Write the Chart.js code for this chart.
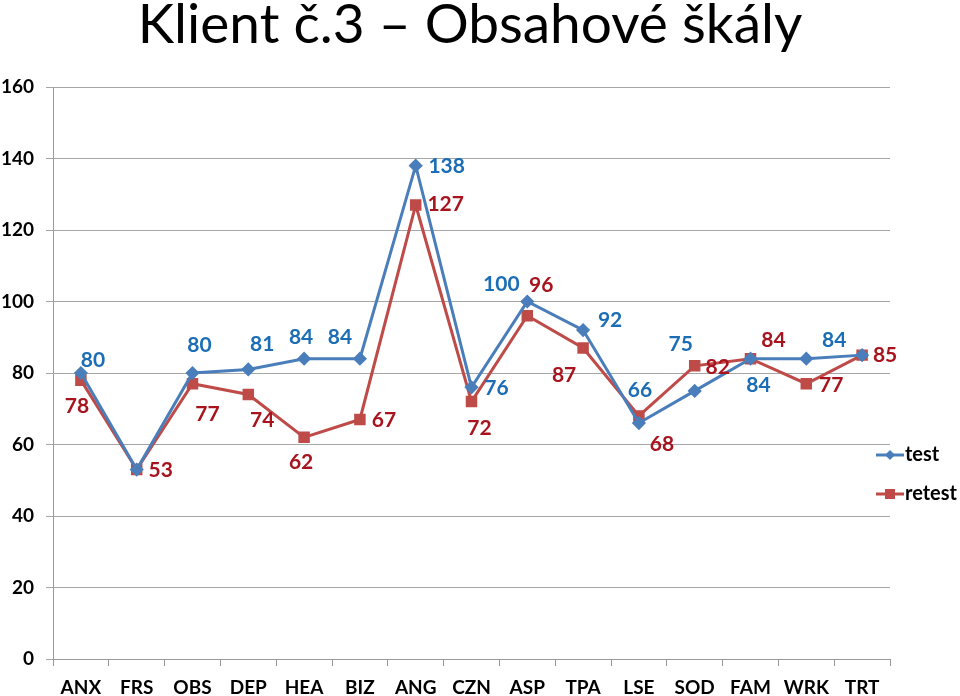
<!DOCTYPE html>
<html>
<head>
<meta charset="utf-8">
<script src="https://cdn.jsdelivr.net/npm/chart.js@4.4.0/dist/chart.umd.min.js"></script>
<style>
html,body{margin:0;padding:0;background:#fff;}
#wrap{width:960px;height:696px;position:relative;}
</style>
</head>
<body>
<div id="wrap"><canvas id="c" width="960" height="696"></canvas></div>
<script>
const categories = ["ANX","FRS","OBS","DEP","HEA","BIZ","ANG","CZN","ASP","TPA","LSE","SOD","FAM","WRK","TRT"];
const testValues   = [80,53,80,81,84,84,138,76,100,92,66,75,84,84,85];
const retestValues = [78,53,77,74,62,67,127,72,96,87,68,82,84,77,85];
const yTicks = [0,20,40,60,80,100,120,140,160];
const titleText = "Klient č.3 – Obsahové škály";
const seriesNames = ["test","retest"];

// label placement offsets (px) relative to each point; null = no label
const testLabelOffsets = [[12,-13],null,[7,-28],[14,-25],[-3,-21],[-20,-21],[31,1],[25,1],[-26,-17],[27,-10],[1,-33],[-14,-47],[8,27],[28,-18],null];
const retestLabelOffsets = [[-4,26],[24,1],[15,31],[14,26],[-3,25],[24,1],[30,-1],[8,27],[14,-31],[-19,27],[23,28],[23,1],[23,-18],[25,2],[23,0]];

const FONT = "Lato, 'Open Sans', sans-serif";
const labelColors = ["#1B6DB5","#A8141E"];

const overlay = {
  id:'overlay',
  afterDatasetsDraw(chart){
    const ctx = chart.ctx;
    ctx.save();
    const offs = [testLabelOffsets, retestLabelOffsets];
    chart.data.datasets.forEach((ds,di)=>{
      const meta = chart.getDatasetMeta(di);
      meta.data.forEach((pt,i)=>{
        const o = offs[di][i];
        if(!o) return;
        ctx.font = "bold 21px " + FONT;
        ctx.fillStyle = labelColors[di];
        ctx.textAlign='center'; ctx.textBaseline='middle';
        ctx.fillText(String(ds.data[i]), pt.x + o[0], pt.y + o[1]);
      });
    });
    ctx.font = "55px " + FONT;
    ctx.fillStyle = "#000";
    ctx.textAlign='center'; ctx.textBaseline='alphabetic';
    ctx.fillText(titleText, 470, 43);
    const items = [{y:455, c:chart.data.datasets[0].borderColor, s:'rectRot'},{y:494, c:chart.data.datasets[1].borderColor, s:'rect'}];
    items.forEach((it,k)=>{
      ctx.strokeStyle = it.c; ctx.lineWidth = 3;
      ctx.beginPath(); ctx.moveTo(876,it.y); ctx.lineTo(904,it.y); ctx.stroke();
      ctx.fillStyle = it.c;
      if(it.s==='rectRot'){
        ctx.beginPath(); ctx.moveTo(890,it.y-5); ctx.lineTo(895,it.y); ctx.lineTo(890,it.y+5); ctx.lineTo(885,it.y); ctx.closePath(); ctx.fill();
      } else {
        ctx.fillRect(885,it.y-5,10,10);
      }
      ctx.font = "bold 20px " + FONT;
      ctx.fillStyle = "#000";
      ctx.textAlign='left'; ctx.textBaseline='middle';
      ctx.fillText(seriesNames[k], 905, it.y);
    });
    ctx.restore();
  }
};

new Chart(document.getElementById('c'), {
  type:'line',
  data:{
    labels:categories,
    datasets:[
      {label:seriesNames[0], data:testValues, borderColor:'#4A7EBB', backgroundColor:'#4A7EBB', borderWidth:3, pointStyle:'rectRot', pointRadius:5, pointHoverRadius:5, tension:0},
      {label:seriesNames[1], data:retestValues, borderColor:'#BE4B48', backgroundColor:'#BE4B48', borderWidth:3, pointStyle:'rect', pointRadius:6, pointHoverRadius:6, tension:0}
    ]
  },
  options:{
    responsive:false,
    animation:false,
    layout:{padding:{top:87,right:70,left:0,bottom:0}},
    plugins:{legend:{display:false}, title:{display:false}, tooltip:{enabled:false}},
    scales:{
      x:{
        offset:true,
        grid:{offset:true, drawOnChartArea:false, color:'#999', tickLength:7},
        border:{color:'#999'},
        ticks:{font:{family:FONT, weight:'bold', size:19}, color:'#000', padding:10, maxRotation:0, autoSkip:false},
        afterFit(s){ s.height = 37; }
      },
      y:{
        min:0, max:160,
        afterBuildTicks(s){ s.ticks = yTicks.map(v=>({value:v})); },
        grid:{color:'#A6A6A6', tickLength:7},
        border:{color:'#999'},
        ticks:{font:{family:FONT, weight:'bold', size:19}, color:'#000', padding:12},
        afterFit(s){ s.width = 53; }
      }
    }
  },
  plugins:[overlay]
});
</script>
</body>
</html>
